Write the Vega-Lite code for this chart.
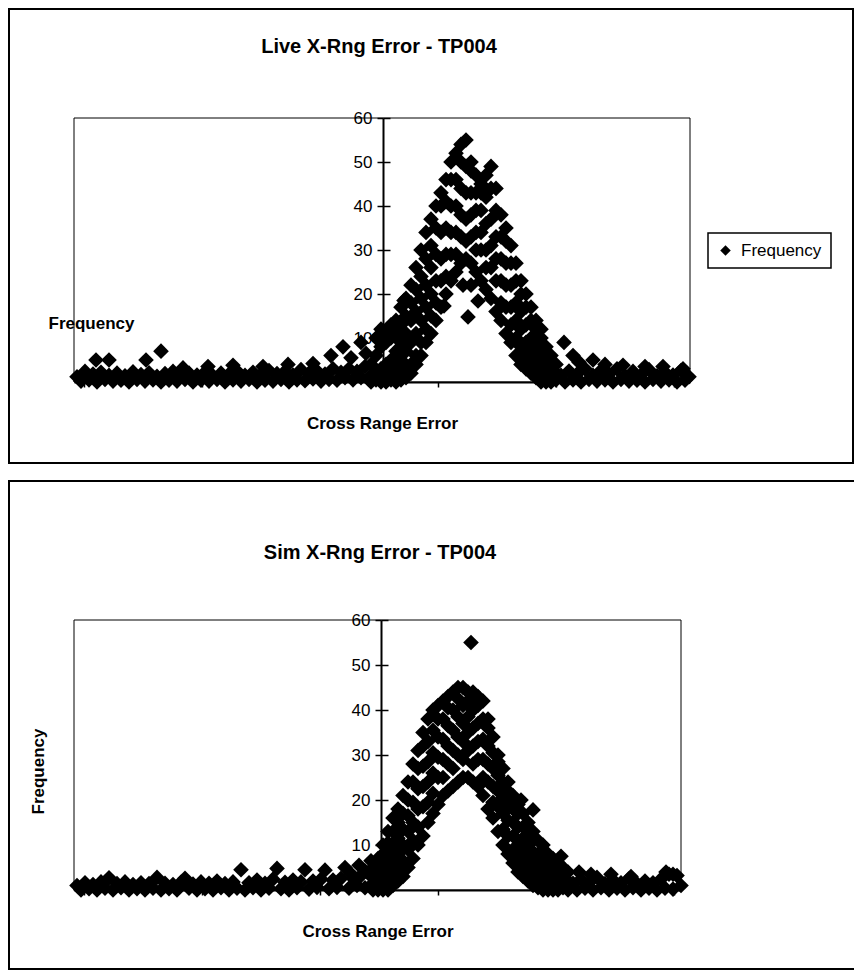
{
"$schema":"https://vega.github.io/schema/vega-lite/v6.json",
"background":"white",
"padding":{"left":8,"top":8,"right":0,"bottom":0},
"spacing":16,
"config":{
 "view":{"stroke":"black","strokeWidth":2},
 "font":"Liberation Sans",
 "axis":{"labelColor":"black","titleColor":"black","tickColor":"black","domainColor":"black","grid":false,"labelFont":"Liberation Sans","titleFont":"Liberation Sans"},
 "legend":{"strokeWidth":1.5},
 "title":{"color":"black","font":"Liberation Sans","fontSize":20,"fontWeight":"bold"}
},
"vconcat":[
{
 "width":844,"height":454,
 "title":{"text":"Live X-Rng Error - TP004","offset":-48,"dx":-52,"anchor":"middle"},
 "resolve":{"axis":{"y":"independent"}},
 "layer":[
  {"data":{"values":[{}]},
   "mark":{"type":"rect","fillOpacity":0,"stroke":"black","strokeWidth":1},
   "encoding":{
    "x":{"datum":-309,"type":"quantitative"},
    "x2":{"datum":307},
    "y":{"datum":0,"type":"quantitative","axis":{"orient":"right","offset":-470,"values":[10,20,30,40,50,60],"labels":false,"domain":false,"tickSize":7,"tickWidth":1.5,"title":null}},
    "y2":{"datum":60}
   }},
  {"data":{"values":[
{"x":-306,"y":1.2},{"x":-302,"y":0.2},{"x":-298,"y":2.4},{"x":-294,"y":0.5},{"x":-290,"y":1.8},{"x":-286,"y":0},{"x":-282,"y":2.2},{"x":-278,"y":0.6},{"x":-274,"y":1.5},{"x":-270,"y":0.2},{"x":-266,"y":2},{"x":-262,"y":0.4},{"x":-258,"y":1.4},{"x":-254,"y":0},{"x":-250,"y":2.3},{"x":-246,"y":0.6},{"x":-242,"y":1.7},{"x":-238,"y":0.2},{"x":-234,"y":2.1},{"x":-230,"y":0.5},{"x":-226,"y":1.3},{"x":-222,"y":0},{"x":-218,"y":1.9},{"x":-214,"y":0.4},{"x":-210,"y":2.4},{"x":-206,"y":0.2},{"x":-202,"y":1.5},{"x":-198,"y":0.6},{"x":-194,"y":2},{"x":-190,"y":0},{"x":-186,"y":1.6},{"x":-182,"y":0.4},{"x":-178,"y":2.2},{"x":-174,"y":0.2},{"x":-170,"y":1.4},{"x":-166,"y":0.6},{"x":-162,"y":2},{"x":-158,"y":0},{"x":-154,"y":1.8},{"x":-150,"y":0.5},{"x":-146,"y":2.5},{"x":-142,"y":0.2},{"x":-138,"y":1.5},{"x":-134,"y":0.6},{"x":-130,"y":2.2},{"x":-126,"y":0},{"x":-122,"y":1.7},{"x":-118,"y":0.4},{"x":-114,"y":2.6},{"x":-110,"y":0.2},{"x":-106,"y":1.9},{"x":-102,"y":0.6},{"x":-98,"y":2.4},{"x":-94,"y":0},{"x":-90,"y":1.6},{"x":-86,"y":0.5},{"x":-82,"y":2.8},{"x":-78,"y":0.3},{"x":-74,"y":2},{"x":-70,"y":0.7},{"x":-66,"y":2.5},{"x":-62,"y":0.2},{"x":-58,"y":1.8},{"x":-54,"y":0.6},{"x":-50,"y":3},{"x":-46,"y":0.4},{"x":-42,"y":2.2},{"x":-38,"y":1},{"x":-34,"y":3},{"x":-30,"y":0.5},{"x":-26,"y":2.4},{"x":-22,"y":1},{"x":-18,"y":3.5},{"x":-14,"y":0.6},
{"x":-287,"y":5},{"x":-274,"y":5},{"x":-237,"y":5},{"x":-222,"y":7},{"x":-200,"y":3.2},{"x":-175,"y":3.5},{"x":-150,"y":3.8},{"x":-120,"y":3.5},{"x":-95,"y":4},{"x":-70,"y":4.2},{"x":-52,"y":6},{"x":-40,"y":8},{"x":-32,"y":5.5},{"x":-22,"y":9},{"x":-17,"y":6.5},
{"x":-12,"y":0},{"x":-12,"y":1.5},{"x":-12,"y":4},
{"x":-7,"y":0.5},{"x":-7,"y":2},{"x":-7,"y":6},{"x":-7,"y":10},
{"x":-2,"y":0},{"x":-2,"y":1},{"x":-2,"y":3},{"x":-2,"y":8},{"x":-2,"y":12},
{"x":3,"y":0},{"x":3,"y":1.5},{"x":3,"y":4},{"x":3,"y":9},{"x":3,"y":11},
{"x":8,"y":0.5},{"x":8,"y":2},{"x":8,"y":5},{"x":8,"y":10},{"x":8,"y":13},
{"x":13,"y":0},{"x":13,"y":1},{"x":13,"y":3},{"x":13,"y":7},{"x":13,"y":11},{"x":13,"y":14},
{"x":18,"y":0.5},{"x":18,"y":2},{"x":18,"y":5},{"x":18,"y":9},{"x":18,"y":13},{"x":18,"y":17},
{"x":23,"y":1},{"x":23,"y":3},{"x":23,"y":7},{"x":23,"y":11},{"x":23,"y":15},{"x":23,"y":19},
{"x":28,"y":2},{"x":28,"y":4},{"x":28,"y":9},{"x":28,"y":14},{"x":28,"y":18},{"x":28,"y":22},
{"x":33,"y":4},{"x":33,"y":6},{"x":33,"y":11},{"x":33,"y":16},{"x":33,"y":21},{"x":33,"y":26},
{"x":38,"y":6},{"x":38,"y":9},{"x":38,"y":14},{"x":38,"y":19},{"x":38,"y":24},{"x":38,"y":30},
{"x":43,"y":9},{"x":43,"y":12},{"x":43,"y":17},{"x":43,"y":22},{"x":43,"y":28},{"x":43,"y":34},
{"x":48,"y":11},{"x":48,"y":15},{"x":48,"y":20},{"x":48,"y":26},{"x":48,"y":31},{"x":48,"y":37},
{"x":53,"y":14},{"x":53,"y":18},{"x":53,"y":23},{"x":53,"y":29},{"x":53,"y":35},{"x":53,"y":40},
{"x":58,"y":17},{"x":58,"y":23},{"x":58,"y":28},{"x":58,"y":34},{"x":58,"y":40},{"x":58,"y":43},
{"x":63,"y":20},{"x":63,"y":24},{"x":63,"y":29},{"x":63,"y":35},{"x":63,"y":41},{"x":63,"y":46},
{"x":68,"y":23},{"x":68,"y":29},{"x":68,"y":34},{"x":68,"y":40},{"x":68,"y":46},{"x":68,"y":50},
{"x":73,"y":25},{"x":73,"y":29},{"x":73,"y":34},{"x":73,"y":40},{"x":73,"y":46},{"x":73,"y":52},
{"x":78,"y":27},{"x":78,"y":33},{"x":78,"y":38},{"x":78,"y":44},{"x":78,"y":50},{"x":78,"y":54},
{"x":83,"y":28},{"x":83,"y":32},{"x":83,"y":37},{"x":83,"y":43},{"x":83,"y":49},{"x":83,"y":55},
{"x":88,"y":27},{"x":88,"y":33},{"x":88,"y":38},{"x":88,"y":43},{"x":88,"y":48},{"x":88,"y":50},
{"x":93,"y":25},{"x":93,"y":30},{"x":93,"y":34},{"x":93,"y":39},{"x":93,"y":43},{"x":93,"y":47},
{"x":98,"y":23},{"x":98,"y":30},{"x":98,"y":34},{"x":98,"y":39},{"x":98,"y":43},{"x":98,"y":45},
{"x":103,"y":21},{"x":103,"y":26},{"x":103,"y":30},{"x":103,"y":36},{"x":103,"y":42},{"x":103,"y":47},
{"x":108,"y":19},{"x":108,"y":26},{"x":108,"y":31},{"x":108,"y":37},{"x":108,"y":44},{"x":108,"y":49},
{"x":113,"y":16},{"x":113,"y":23},{"x":113,"y":28},{"x":113,"y":33},{"x":113,"y":39},{"x":113,"y":44},
{"x":118,"y":14},{"x":118,"y":18},{"x":118,"y":23},{"x":118,"y":28},{"x":118,"y":33},{"x":118,"y":38},
{"x":123,"y":11},{"x":123,"y":17},{"x":123,"y":22},{"x":123,"y":27},{"x":123,"y":32},{"x":123,"y":35},
{"x":128,"y":9},{"x":128,"y":13},{"x":128,"y":17},{"x":128,"y":22},{"x":128,"y":27},{"x":128,"y":31},
{"x":133,"y":6},{"x":133,"y":10},{"x":133,"y":14},{"x":133,"y":18},{"x":133,"y":23},{"x":133,"y":27},
{"x":138,"y":4},{"x":138,"y":8},{"x":138,"y":12},{"x":138,"y":16},{"x":138,"y":20},{"x":138,"y":23},
{"x":143,"y":3},{"x":143,"y":6},{"x":143,"y":9},{"x":143,"y":13},{"x":143,"y":17},{"x":143,"y":20},
{"x":148,"y":2},{"x":148,"y":4},{"x":148,"y":7},{"x":148,"y":10},{"x":148,"y":14},{"x":148,"y":17},
{"x":153,"y":1},{"x":153,"y":3},{"x":153,"y":5},{"x":153,"y":8},{"x":153,"y":12},{"x":153,"y":14},
{"x":158,"y":0},{"x":158,"y":2},{"x":158,"y":4},{"x":158,"y":6},{"x":158,"y":10},{"x":158,"y":12},
{"x":163,"y":0},{"x":163,"y":1.5},{"x":163,"y":3},{"x":163,"y":5},{"x":163,"y":8},
{"x":168,"y":0},{"x":168,"y":1},{"x":168,"y":2.5},{"x":168,"y":6},
{"x":173,"y":0.5},{"x":173,"y":2},{"x":173,"y":4},
{"x":21,"y":18.5},{"x":5,"y":11},{"x":61,"y":17.3},{"x":80,"y":22},{"x":88,"y":22},{"x":95,"y":18.4},{"x":85,"y":14.8},{"x":181,"y":9},{"x":190,"y":6},
{"x":178,"y":1.5},{"x":182,"y":0},{"x":186,"y":2.5},{"x":190,"y":0.5},{"x":194,"y":1.8},{"x":198,"y":0},{"x":202,"y":3},{"x":206,"y":0.6},{"x":210,"y":1.5},{"x":214,"y":0.2},{"x":218,"y":2.6},{"x":222,"y":0.5},{"x":226,"y":1.8},{"x":230,"y":0},{"x":234,"y":3},{"x":238,"y":0.6},{"x":242,"y":1.4},{"x":246,"y":0.2},{"x":250,"y":2.4},{"x":254,"y":0.4},{"x":258,"y":1.6},{"x":262,"y":0},{"x":266,"y":2.8},{"x":270,"y":0.6},{"x":274,"y":1.4},{"x":278,"y":0.2},{"x":282,"y":2.2},{"x":286,"y":0.5},{"x":290,"y":1.6},{"x":294,"y":0},{"x":298,"y":2.6},{"x":302,"y":0.4},{"x":306,"y":1.2},
{"x":196,"y":4.5},{"x":210,"y":5},{"x":222,"y":4},{"x":240,"y":3.8},{"x":262,"y":3.5},{"x":280,"y":3.5},{"x":300,"y":3}
  ]},
   "mark":{"type":"point","shape":"diamond","filled":true,"size":245,"opacity":1},
   "encoding":{
    "x":{"field":"x","type":"quantitative","scale":{"domain":[-309,307],"range":[65,681],"nice":false,"zero":false},
     "axis":{"orient":"bottom","offset":-81,"values":[-299,-181,-63,55,173,291],"labels":false,"domainWidth":2,"tickSize":5,"tickWidth":1.5,"title":"Cross Range Error","titleFontSize":17,"titleFontWeight":"bold","titlePadding":28}},
    "y":{"field":"y","type":"quantitative","scale":{"domain":[0,60],"range":[373,109],"nice":false,"zero":false},
     "axis":{"orient":"left","offset":-374,"values":[10,20,30,40,50,60],"domainWidth":2,"tickSize":6,"tickWidth":1.5,"labelFontSize":17,"labelPadding":5,"title":"Frequency","titleAngle":0,"titleX":-292,"titleY":314,"titleAlign":"center","titleBaseline":"middle","titleFontSize":17,"titleFontWeight":"bold"}},
    "color":{"datum":"Frequency","type":"nominal","scale":{"range":["black"]},
     "legend":{"orient":"none","legendX":699,"legendY":224,"title":null,"symbolType":"diamond","symbolSize":110,"labelFontSize":17,"labelOffset":7,"padding":9,"strokeColor":"black","fillColor":"white","labelColor":"black"}}
   }}
 ]
},
{
 "width":846,"height":488,
 "title":{"text":"Sim X-Rng Error - TP004","offset":-82,"dx":-52,"anchor":"middle"},
 "resolve":{"axis":{"y":"independent"}},
 "layer":[
  {"data":{"values":[{}]},
   "mark":{"type":"rect","fillOpacity":0,"stroke":"black","strokeWidth":1},
   "encoding":{
    "x":{"datum":-307,"type":"quantitative"},
    "x2":{"datum":300},
    "y":{"datum":0,"type":"quantitative","axis":{"orient":"right","offset":-474,"values":[10,20,30,40,50,60],"labels":false,"domain":false,"tickSize":7,"tickWidth":1.5,"title":null}},
    "y2":{"datum":60}
   }},
  {"data":{"values":[
{"x":-304,"y":1},{"x":-300,"y":0},{"x":-296,"y":1.6},{"x":-292,"y":0.3},{"x":-288,"y":1.2},{"x":-284,"y":0},{"x":-280,"y":1.8},{"x":-276,"y":0.4},{"x":-272,"y":2.7},{"x":-268,"y":0},{"x":-264,"y":1.4},{"x":-260,"y":0.5},{"x":-256,"y":1.8},{"x":-252,"y":0},{"x":-248,"y":1.2},{"x":-244,"y":0.3},{"x":-240,"y":1.6},{"x":-236,"y":0},{"x":-232,"y":1.4},{"x":-228,"y":0.4},{"x":-224,"y":2.8},{"x":-220,"y":0},{"x":-216,"y":1.5},{"x":-212,"y":0.3},{"x":-208,"y":1.2},{"x":-204,"y":0},{"x":-200,"y":1.7},{"x":-196,"y":2.6},{"x":-192,"y":0.4},{"x":-188,"y":1.3},{"x":-184,"y":0},{"x":-180,"y":1.8},{"x":-176,"y":0.3},{"x":-172,"y":1.5},{"x":-168,"y":0},{"x":-164,"y":2},{"x":-160,"y":0.5},{"x":-156,"y":1.4},{"x":-152,"y":0},{"x":-148,"y":1.8},{"x":-144,"y":0.4},{"x":-140,"y":4.5},{"x":-136,"y":0},{"x":-132,"y":1.6},{"x":-128,"y":0.5},{"x":-124,"y":2.2},{"x":-120,"y":0},{"x":-116,"y":1.5},{"x":-112,"y":0.4},{"x":-108,"y":2.4},{"x":-104,"y":4.8},{"x":-100,"y":0.3},{"x":-96,"y":1.7},{"x":-92,"y":0},{"x":-88,"y":2.2},{"x":-84,"y":0.5},{"x":-80,"y":1.8},{"x":-76,"y":4.5},{"x":-72,"y":0.2},{"x":-68,"y":2},{"x":-64,"y":0.6},{"x":-60,"y":2.4},{"x":-56,"y":4.4},{"x":-52,"y":0.3},{"x":-48,"y":2.2},{"x":-44,"y":0.6},{"x":-40,"y":2.6},{"x":-36,"y":5},{"x":-32,"y":0.4},{"x":-28,"y":2.6},{"x":-24,"y":1},{"x":-20,"y":3.2},{"x":-16,"y":0.5},{"x":-12,"y":3.5},
{"x":-30,"y":3.6},{"x":-22,"y":5.5},{"x":-16,"y":4.2},{"x":-10,"y":6.5},
{"x":-8,"y":0},{"x":-8,"y":1.5},{"x":-8,"y":3},{"x":-8,"y":5},
{"x":-3,"y":0},{"x":-3,"y":1.5},{"x":-3,"y":3.5},{"x":-3,"y":5.5},{"x":-3,"y":7},
{"x":2,"y":0},{"x":2,"y":2},{"x":2,"y":4},{"x":2,"y":6},{"x":2,"y":8},{"x":2,"y":10},
{"x":7,"y":0},{"x":7,"y":2.5},{"x":7,"y":5},{"x":7,"y":8},{"x":7,"y":10.5},{"x":7,"y":13},
{"x":12,"y":1},{"x":12,"y":4},{"x":12,"y":7},{"x":12,"y":10},{"x":12,"y":13},{"x":12,"y":16},
{"x":17,"y":2},{"x":17,"y":5},{"x":17,"y":8},{"x":17,"y":11.5},{"x":17,"y":15},{"x":17,"y":18},
{"x":22,"y":3},{"x":22,"y":6.5},{"x":22,"y":10},{"x":22,"y":13.5},{"x":22,"y":17},{"x":22,"y":21},
{"x":27,"y":5},{"x":27,"y":9},{"x":27,"y":13},{"x":27,"y":16.5},{"x":27,"y":20},{"x":27,"y":24},
{"x":32,"y":7},{"x":32,"y":11},{"x":32,"y":15},{"x":32,"y":19.5},{"x":32,"y":24},{"x":32,"y":28},
{"x":37,"y":10},{"x":37,"y":14},{"x":37,"y":18},{"x":37,"y":22.5},{"x":37,"y":27},{"x":37,"y":31},
{"x":42,"y":12},{"x":42,"y":18.5},{"x":42,"y":23},{"x":42,"y":27.5},{"x":42,"y":32},{"x":42,"y":35},
{"x":47,"y":15},{"x":47,"y":19.5},{"x":47,"y":24},{"x":47,"y":28.5},{"x":47,"y":33},{"x":47,"y":38},
{"x":52,"y":17},{"x":52,"y":21.5},{"x":52,"y":26},{"x":52,"y":30.5},{"x":52,"y":35.5},{"x":52,"y":40},
{"x":57,"y":19},{"x":57,"y":25},{"x":57,"y":29.5},{"x":57,"y":34},{"x":57,"y":38},{"x":57,"y":41},
{"x":62,"y":21},{"x":62,"y":25},{"x":62,"y":29},{"x":62,"y":33.5},{"x":62,"y":38},{"x":62,"y":42},
{"x":67,"y":22},{"x":67,"y":28},{"x":67,"y":32},{"x":67,"y":36.5},{"x":67,"y":40.5},{"x":67,"y":43},
{"x":72,"y":23},{"x":72,"y":27},{"x":72,"y":31},{"x":72,"y":35.5},{"x":72,"y":40},{"x":72,"y":44},
{"x":77,"y":24},{"x":77,"y":30},{"x":77,"y":34},{"x":77,"y":38.5},{"x":77,"y":42.5},{"x":77,"y":45},
{"x":82,"y":25},{"x":82,"y":29},{"x":82,"y":33},{"x":82,"y":37},{"x":82,"y":41},{"x":82,"y":45},
{"x":87,"y":25},{"x":87,"y":31},{"x":87,"y":35},{"x":87,"y":38.5},{"x":87,"y":42},{"x":87,"y":44},
{"x":92,"y":24},{"x":92,"y":28},{"x":92,"y":32},{"x":92,"y":36},{"x":92,"y":40},{"x":92,"y":44},
{"x":97,"y":23},{"x":97,"y":29},{"x":97,"y":33},{"x":97,"y":37},{"x":97,"y":41},{"x":97,"y":43},
{"x":102,"y":21},{"x":102,"y":25},{"x":102,"y":29},{"x":102,"y":33.5},{"x":102,"y":38},{"x":102,"y":42},
{"x":107,"y":18},{"x":107,"y":24},{"x":107,"y":28},{"x":107,"y":32},{"x":107,"y":36},{"x":107,"y":38},
{"x":112,"y":16},{"x":112,"y":19.5},{"x":112,"y":23},{"x":112,"y":27},{"x":112,"y":30.5},{"x":112,"y":34},
{"x":117,"y":13},{"x":117,"y":18.5},{"x":117,"y":22},{"x":117,"y":25.5},{"x":117,"y":28.5},{"x":117,"y":30},
{"x":122,"y":10},{"x":122,"y":13.5},{"x":122,"y":17},{"x":122,"y":20.5},{"x":122,"y":24},{"x":122,"y":27},
{"x":127,"y":8},{"x":127,"y":12},{"x":127,"y":15.5},{"x":127,"y":19},{"x":127,"y":22},{"x":127,"y":24},
{"x":132,"y":6},{"x":132,"y":9},{"x":132,"y":12},{"x":132,"y":15},{"x":132,"y":18},{"x":132,"y":21},
{"x":137,"y":4},{"x":137,"y":7.5},{"x":137,"y":11},{"x":137,"y":14},{"x":137,"y":17},{"x":137,"y":19},
{"x":142,"y":3},{"x":142,"y":6},{"x":142,"y":9},{"x":142,"y":11.5},{"x":142,"y":14},{"x":142,"y":17},
{"x":147,"y":2},{"x":147,"y":4.5},{"x":147,"y":7},{"x":147,"y":10},{"x":147,"y":12.5},{"x":147,"y":15},
{"x":152,"y":1},{"x":152,"y":3.5},{"x":152,"y":6},{"x":152,"y":8.5},{"x":152,"y":11},{"x":152,"y":13},
{"x":157,"y":0.5},{"x":157,"y":3},{"x":157,"y":5.5},{"x":157,"y":8},{"x":157,"y":11},
{"x":162,"y":0},{"x":162,"y":2.5},{"x":162,"y":5},{"x":162,"y":7.5},{"x":162,"y":10},
{"x":167,"y":0},{"x":167,"y":2},{"x":167,"y":4},{"x":167,"y":6},{"x":167,"y":8},
{"x":172,"y":0},{"x":172,"y":2},{"x":172,"y":4.5},{"x":172,"y":7},
{"x":177,"y":0},{"x":177,"y":2},{"x":177,"y":4},{"x":177,"y":6},
{"x":182,"y":0.5},{"x":182,"y":2.5},{"x":182,"y":5},
{"x":187,"y":0},{"x":187,"y":2},{"x":187,"y":4},
{"x":90,"y":55},{"x":152,"y":17.8},{"x":180,"y":7.5},{"x":140,"y":20},
{"x":192,"y":1.5},{"x":196,"y":0},{"x":200,"y":2.4},{"x":204,"y":0.4},{"x":208,"y":1.6},{"x":212,"y":0},{"x":216,"y":2.8},{"x":220,"y":0.5},{"x":224,"y":1.4},{"x":228,"y":0},{"x":232,"y":2.2},{"x":236,"y":0.4},{"x":240,"y":1.6},{"x":244,"y":0},{"x":248,"y":2.5},{"x":252,"y":0.5},{"x":256,"y":1.4},{"x":260,"y":0},{"x":264,"y":2},{"x":268,"y":0.4},{"x":272,"y":1.6},{"x":276,"y":0},{"x":280,"y":2.4},{"x":284,"y":0.4},{"x":288,"y":3.5},{"x":292,"y":0.2},{"x":296,"y":3.2},{"x":300,"y":1},
{"x":198,"y":4},{"x":210,"y":3.5},{"x":230,"y":3.5},{"x":250,"y":3},{"x":285,"y":4},{"x":292,"y":3.5}
  ]},
   "mark":{"type":"point","shape":"diamond","filled":true,"size":245,"opacity":1},
   "encoding":{
    "x":{"field":"x","type":"quantitative","scale":{"domain":[-307,300],"range":[65,672],"nice":false,"zero":false},
     "axis":{"orient":"bottom","offset":-79,"values":[-297,-179,-61,57,175,293],"labels":false,"domainWidth":2,"tickSize":5,"tickWidth":1.5,"title":"Cross Range Error","titleFontSize":17,"titleFontWeight":"bold","titlePadding":28}},
    "y":{"field":"y","type":"quantitative","scale":{"domain":[0,60],"range":[409,139],"nice":false,"zero":false},
     "axis":{"orient":"left","offset":-372,"values":[10,20,30,40,50,60],"domainWidth":2,"tickSize":6,"tickWidth":1.5,"labelFontSize":17,"labelPadding":5,"title":"Frequency","titleAngle":-90,"titleX":-343,"titleY":290,"titleAlign":"center","titleBaseline":"middle","titleFontSize":17,"titleFontWeight":"bold"}},
    "color":{"datum":"Frequency","type":"nominal","scale":{"range":["black"]},
     "legend":{"orient":"none","legendX":692,"legendY":262,"title":null,"symbolType":"diamond","symbolSize":110,"labelFontSize":17,"labelOffset":7,"padding":9,"strokeColor":"black","fillColor":"white","labelColor":"black"}}
   }}
 ]
}
]
}
